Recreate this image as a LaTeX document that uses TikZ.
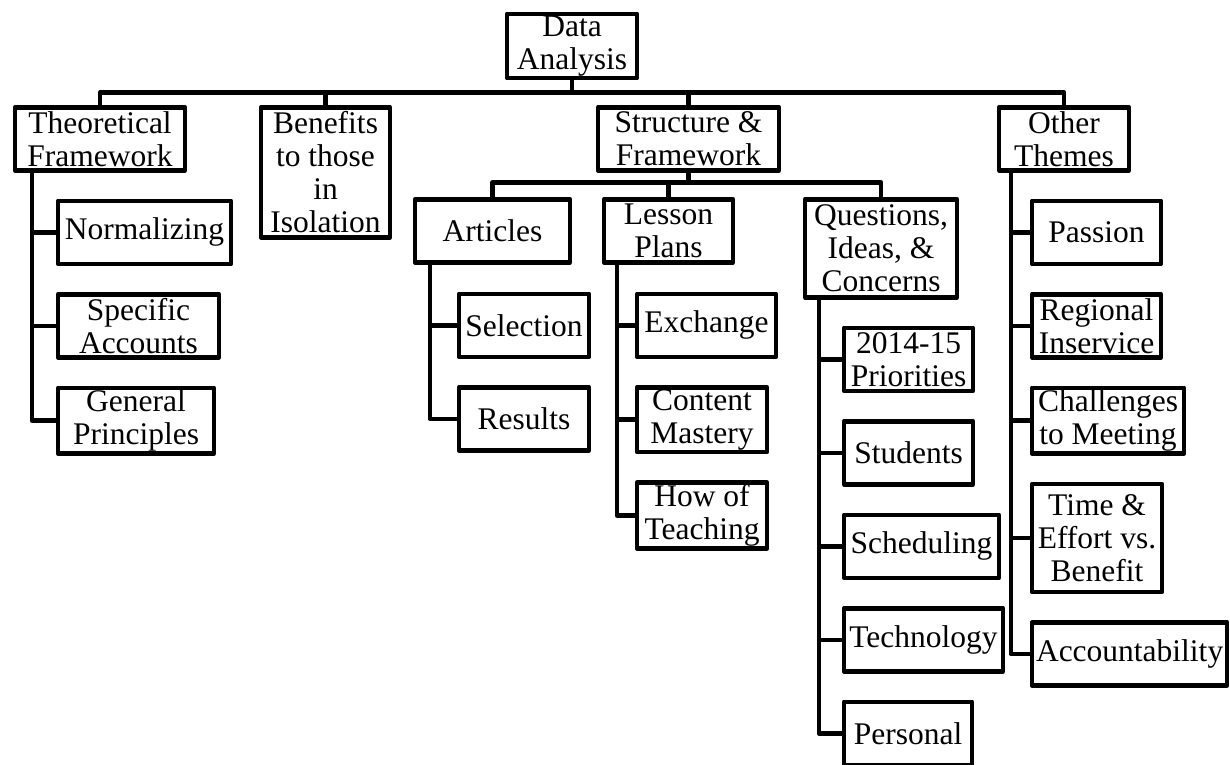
\documentclass[tikz,border=0pt]{standalone}
\usepackage{fontspec}
\setmainfont{Liberation Serif}
\usetikzlibrary{positioning}
\tikzstyle{topic}=[rectangle, draw=black, line width=4.5pt, line join=round, minimum width=129pt, minimum height=63pt, inner xsep=4pt, inner ysep=2pt, align=center]
\tikzstyle{branch}=[line width=4.5pt, line join=round]

\begin{document}
\begin{tikzpicture}[x=1pt,y=-1pt,font=\fontsize{31.5}{33}\selectfont]
  \useasboundingbox (0,0) rectangle (1230,764);

  \node[topic, minimum width=130pt] (DA) at (572,46) {Data\\Analysis};

  % first level
  \node[topic, anchor=north, minimum width=170pt] (TF) at (100,105) {Theoretical\\Framework};
  \node[topic, anchor=north, minimum height=130pt] (BI) at (325.5,105) {Benefits\\to those\\in\\Isolation};
  \node[topic, anchor=north, minimum width=181pt] (SF) at (688.5,105) {Structure \&\\Framework};
  \node[topic, anchor=north, minimum width=130pt] (OT) at (1064,105) {Other\\Themes};

  % under structure & framework
  \node[topic, anchor=north, minimum width=155pt] (Art) at (492.5,197) {Articles};
  \node[topic, anchor=north] (LP) at (668.5,197) {Lesson\\Plans};
  \node[topic, anchor=north, minimum width=152pt, minimum height=98pt] (QIC) at (881,197) {Questions,\\Ideas, \&\\Concerns};

  % leaves
  \node[topic, minimum width=173pt] (Nor) [below right=26pt and 43pt of TF.south west] {Normalizing};
  \node[topic, minimum width=161pt] (Spe) [below right=26pt and 0pt of Nor.south west] {Specific\\Accounts};
  \node[topic, minimum width=156pt] (Gen) [below right=26pt and 0pt of Spe.south west] {General\\Principles};

  \node[topic, minimum width=130pt] (Sel) [below right=27pt and 44pt of Art.south west] {Selection};
  \node[topic, minimum width=130pt] (Res) [below right=26pt and 0pt of Sel.south west] {Results};

  \node[topic, minimum width=139pt] (Exc) [below right=27pt and 33pt of LP.south west] {Exchange};
  \node[topic, minimum width=130pt] (Con) [below right=26pt and 0pt of Exc.south west] {Content\\Mastery};
  \node[topic, minimum width=130pt] (How) [below right=26pt and 0pt of Con.south west] {How of\\Teaching};

  \node[topic] (Pri) [below right=26pt and 39pt of QIC.south west] {2014-15\\Priorities};
  \node[topic] (Stu) [below right=26pt and 0pt of Pri.south west] {Students};
  \node[topic, minimum width=155pt] (Sch) [below right=26pt and 0pt of Stu.south west] {Scheduling};
  \node[topic, minimum width=159pt] (Tec) [below right=26pt and 0pt of Sch.south west] {Technology};
  \node[topic, minimum width=128pt] (Per) [below right=26pt and 0pt of Tec.south west] {Personal};

  \node[topic] (Pas) [below right=26pt and 33pt of OT.south west] {Passion};
  \node[topic] (Reg) [below right=26pt and 0pt of Pas.south west] {Regional\\Inservice};
  \node[topic, minimum width=152pt] (Cha) [below right=26pt and 0pt of Reg.south west] {Challenges\\to Meeting};
  \node[topic, minimum width=130pt, minimum height=108pt] (Tim) [below right=26pt and 0pt of Cha.south west] {Time \&\\Effort vs.\\Benefit};
  \node[topic, minimum width=194pt] (Acc) [below right=26pt and 0pt of Tim.south west] {Accountability};

  % connectors
  \draw[branch] (DA.south) -- ++(0,12) -| (TF.north);
  \draw[branch] (DA.south) -- ++(0,12) -| (BI.north);
  \draw[branch] (DA.south) -- ++(0,12) -| (SF.north);
  \draw[branch] (DA.south) -- ++(0,12) -| (OT.north);

  \draw[branch] (SF.south) -- ++(0,10) -| (Art.north);
  \draw[branch] (SF.south) -- ++(0,10) -| (LP.north);
  \draw[branch] (SF.south) -- ++(0,10) -| (QIC.north);

  \foreach \leaf in {Nor,Spe,Gen}
    \draw[branch] ([xshift=19pt]TF.south west) |- (\leaf.west);
  \foreach \leaf in {Sel,Res}
    \draw[branch] ([xshift=17pt]Art.south west) |- (\leaf.west);
  \foreach \leaf in {Exc,Con,How}
    \draw[branch] ([xshift=15pt]LP.south west) |- (\leaf.west);
  \foreach \leaf in {Pri,Stu,Sch,Tec,Per}
    \draw[branch] ([xshift=16pt]QIC.south west) |- (\leaf.west);
  \foreach \leaf in {Pas,Reg,Cha,Tim,Acc}
    \draw[branch] ([xshift=14pt]OT.south west) |- (\leaf.west);
\end{tikzpicture}
\end{document}
